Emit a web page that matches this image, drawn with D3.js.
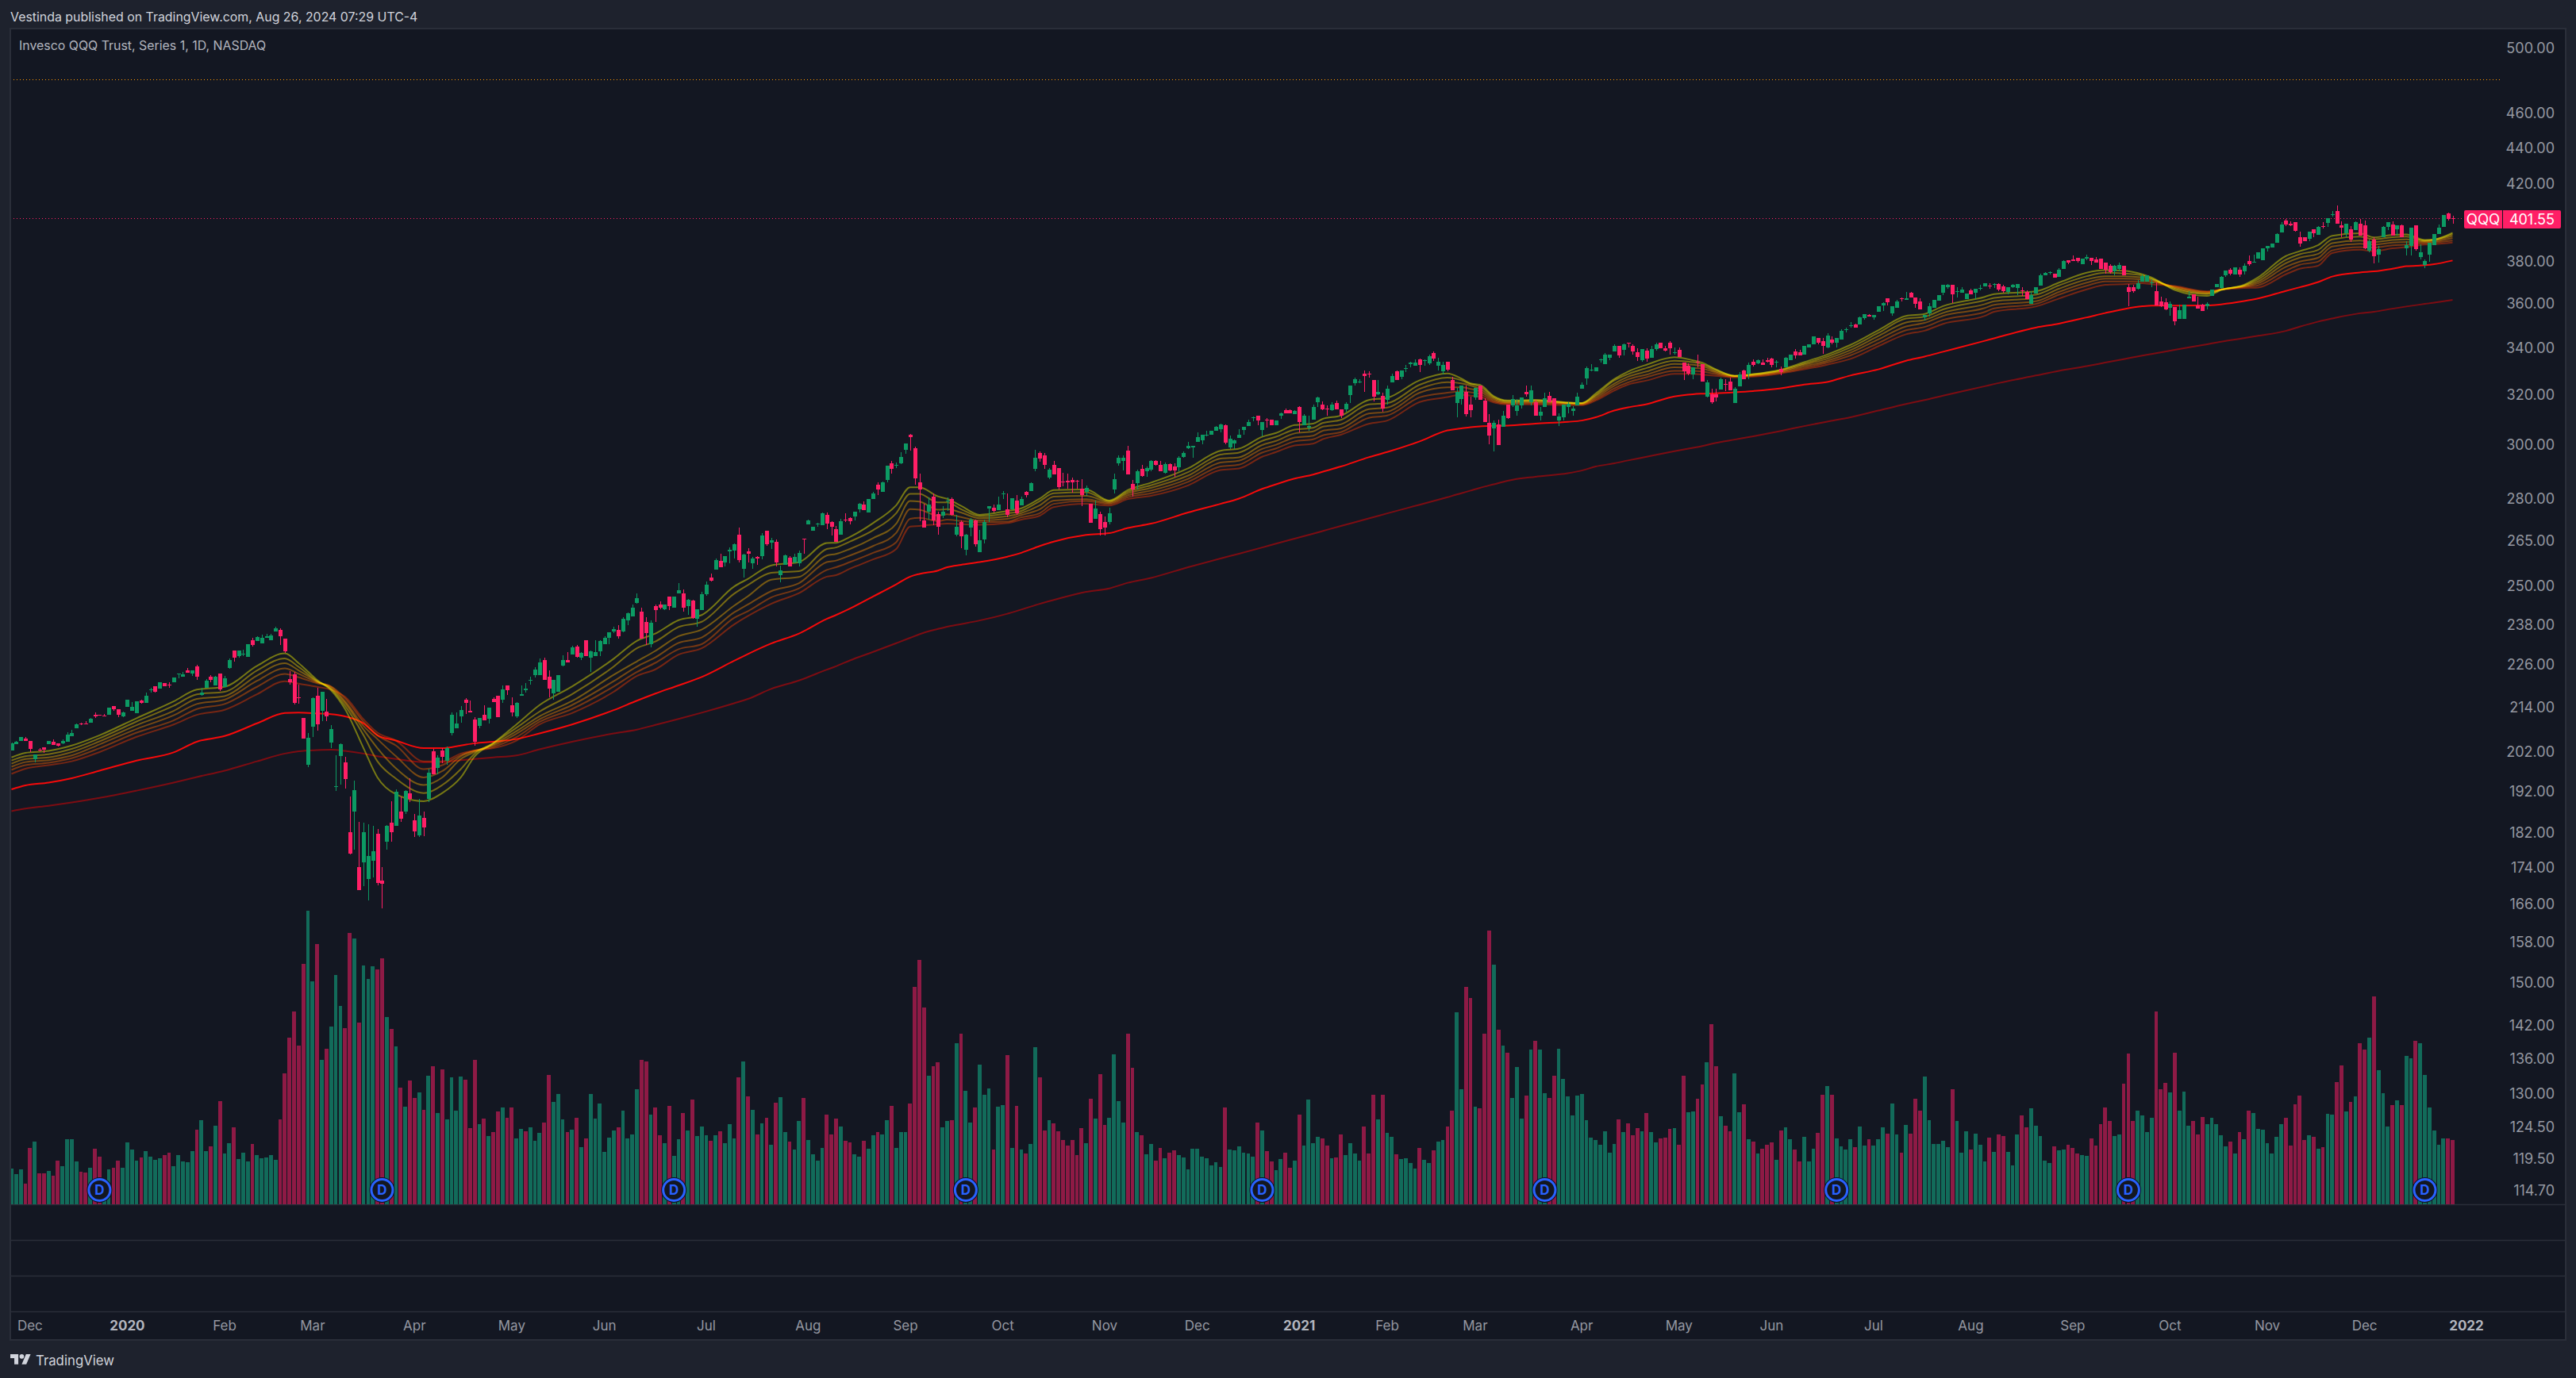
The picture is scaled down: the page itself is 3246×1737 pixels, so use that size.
<!DOCTYPE html>
<html>
<head>
<meta charset="utf-8">
<title>Invesco QQQ Trust, Series 1, 1D, NASDAQ</title>
<script src="https://cdn.jsdelivr.net/npm/d3@7/dist/d3.min.js"></script>
<style>
  html, body { margin: 0; padding: 0; background: #1e222d; }
  svg { display: block; }
  text { font-family: Inter, "Liberation Sans", sans-serif; }
</style>
</head>
<body>
<svg id="chart" width="3246" height="1737"></svg>
<script>
// Daily candles as [open, high, low, close]
const candlesDec2019 = [
[202.4,204.3,202.3,204.1],[204.0,204.9,204.0,204.6],[204.8,205.9,204.8,205.9],[205.4,205.8,204.8,204.8],[204.9,204.9,201.9,202.8],
[200.1,201.2,199.2,201.2],[202.6,203,202.1,202.4],[203.1,203.1,201.7,202.5],[204,204.9,204,204.9],[204.5,205.3,203.8,203.8],
[204.1,204.1,203.3,203.5],[204.2,205.2,204,204.9],[204.5,207.2,204.5,206.4],[206,207.8,206,207],[208.2,209.5,208.2,209.2],
[209.4,209.7,209.1,209.3],[209.5,210.1,209.3,209.4],[209.6,210.9,209.6,210.7],[211.8,212.4,210.9,211.5],[211.9,211.9,211.6,211.6],
[211.7,212,211.3,211.6],[211.9,213.7,211.9,213.7],[214.3,214.3,212.9,213.3],[213.3,213.3,211.1,211.8],[211.3,212.6,211.1,212.4]
];
const candlesFirstHalf2020 = [
[214,215.9,214,215.9],[212.9,215.3,212.9,213.9],[212.3,215.5,212.3,215.5],[215.7,216,214.9,215.2],[215.2,217.9,215.2,217],
[218.7,219.3,217.9,218.9],[219.7,219.7,218,218.2],[219,220.9,219,220.9],[220.6,220.6,219.7,219.7],[220.2,221,219.3,219.9],
[220.9,222.2,220.9,222.2],[223.2,223.3,222,223.3],[222.5,223.8,222.5,223.1],[224.2,225,223.6,223.6],[223.4,224.4,222.7,224.4],
[225.4,225.9,221.6,222.5],[217.4,219.3,217.1,217.9],[219.3,221.7,219.3,221.3],[222.5,222.9,220.9,221.6],[219.9,222.8,219.9,222.5],
[223.4,223.4,218.4,218.8],[219.5,222.6,219.5,222.1],[225,227.8,224.7,227.4],[230,230,226.9,228],[228.4,230.2,228,230.2],
[229.1,230.4,228.5,229.2],[228.3,231.9,228.3,231.9],[233.2,234,231.4,231.8],[233,234.4,233,234.1],[232.3,234.9,232.3,233.9],
[234,235,233.9,234.5],[233.2,235,233.2,234.6],[235.9,237.3,235.9,236.9],[236.3,236.8,231.8,234.4],[233.7,233.7,229.3,229.9],
[221.7,224,220.2,221],[223.1,223.8,214.6,215],[216.6,220.2,214.9,216.5],[210.9,210.9,205.4,205.4],[198.7,207,198.1,205.6],
[208.6,216.6,205.8,216.4],[217.1,219.4,207.5,209.2],[213,218.2,210.2,218.2],[212.6,216.2,210,211.3],[204.3,209,203,207.9],
[193.2,201,192.1,193.3],[200.9,204.1,193.7,203.9],[199.3,200.7,192.7,195],[182.1,190.7,177,177.2],[186.9,194.5,178.1,192.2],
[174.1,184.6,169,169],[175.2,184.4,169.8,182.1],[171.5,183.9,166.8,176.6],[175.5,183.5,171.7,177.6],[181.8,182.9,170.1,170.5],
[171,174.1,165,170.3],[179.8,183.8,178,183.6],[184.4,189.5,179.9,182.1],[183.6,192.4,183.6,191.9],[186.9,190.7,184.6,185.2],
[186.9,192.2,186.4,192],[191.5,195.2,189.2,190.1],[184.9,186.5,180.9,182.2],[181.4,190.1,181,186.1],[185.5,187,181.1,183.2],
[190.1,197.6,189.2,196.5],[202.1,202.7,196.2,196.2],[197.8,201,196.2,200.4],[202.3,203,199,200.7],[199.7,203.4,198.7,203],
[206.9,212.4,206.2,211.8],[208.2,212.4,208.2,209.5],[211.3,214.2,209.7,213.1],[215.9,216.4,212,215.1],[213,215.7,212.4,212.4],
[210.5,211.2,203.5,204.5],[208.8,210.9,208.2,210.9],[211.8,214.4,210.3,210.3],[210.7,213.7,209.5,213.7],[216.2,216.6,215.3,215.3],
[217.1,217.1,211.2,211.2],[216,220,215,218.9],[220,220,217.4,218.7],[214.4,216.6,211.5,212.4],[211.4,215.3,211,215.1],
[217.2,220,217,217.6],[218.6,220.7,217.9,219.2],[221.5,222.5,220.2,221.6],[223,225.2,222.3,224.6],[223,227.7,223,226.7],
[227.2,227.9,221.6,221.6],[222.4,224.4,216.6,219],[217.7,221.6,215.9,221.6],[218.3,223,218.1,223],[225.8,228.6,225.4,227.2],
[227.4,229.7,226.5,226.5],[229,231.5,229,231.1],[231.3,231.8,228.1,228.3],[228.1,229.7,227.4,229.5],[233.2,233.2,228.5,228.5],
[228.1,230.1,223.8,229.9],[228.5,233.2,228.5,229.7],[229.9,233.2,228.5,232.9],[231.9,234.3,231.9,233.8],[234,235.5,231.9,235.5],
[235.8,237.2,235.3,236.5],[236.2,237.7,233.6,234.5],[235.8,240.2,235.5,239.7],[239.2,241.6,237.7,241.4],[240.5,244.1,240.5,243.1],
[244.6,247.6,244.4,246.1],[242,243.3,233.6,233.6],[238.8,240.1,231.7,235.4],[232.1,239.3,231.1,238.6],[243.6,244.3,238.8,242.4],
[244.3,245.3,242.6,243.1],[242.8,244.3,242.4,244.1],[246.6,246.8,242.4,243.8],[243.3,246.6,243.3,246.6],[247.8,251,247.6,248.6],
[247.8,249,242,243.3],[243.6,246,240.9,245.8],[245.5,245.8,239.7,239.9],[239.7,242.6,237.2,242.6],[242.4,248.1,242.4,247.4]
];
const candlesSecondHalf2020 = [
[247.4,251.5,246.9,250.4],[252.8,254.1,251.5,251.7],[255.3,259,255.3,258.5],[258.2,260.7,256.3,256.3],[257.8,260,256.4,260],
[261.6,262.9,257.5,262],[261.8,264.3,259,264],[267.1,269.6,257.7,258.5],[255.6,260.7,252.8,260.4],[261.5,262.6,257.7,260.7],
[257.5,259.5,255.6,259],[259.5,260,256.9,259],[260,267.7,258.7,266.9],[268.5,268.5,263.3,263.8],[264.4,266,262.4,265.2],
[264.6,265.4,256.4,257.8],[253.7,256.8,251.2,255.2],[256.9,260.4,256.9,260.1],[259.3,259.8,256.4,256.4],[257.9,260.6,257.6,259.5],
[257.6,261.7,256.4,260.9],[265.7,265.7,260.6,265.5],[270.7,272.3,270.7,272],[268.5,270,268.5,270],[270.7,271.4,270,270.9],
[270.4,274.9,270.4,274.7],[274.1,274.9,269.1,271],[271.5,271.8,266.9,269.8],[269,270.3,264.6,264.6],[267.1,272.6,267.1,271.8],
[272.5,274.7,271.6,272.2],[272.9,273.2,270.7,271.8],[273.5,275.2,272.1,275.2],[276,278.3,274.9,278],[277.7,278.9,275.7,275.7],
[274.9,279.8,274.9,279.8],[279.8,282.4,279.8,281.8],[285,285.9,281.2,283.3],[282.4,286.2,282.4,285.9],[286.8,292.1,285.9,292.1],
[293,293.9,288.9,290.9],[292.2,293.2,291,292.4],[293,297.2,292.7,295.4],[297.9,300.6,296.4,300.6],[303.9,304.2,297.6,303],
[298.8,299.4,284.8,287.3],[285.9,289,271.8,283.3],[272.1,278,269.6,269.6],[275.2,280.3,272.5,277.7],[280.7,281.8,270.4,272.1],
[274.3,275.2,267.1,270],[273.8,277.2,272.9,275.2],[278.9,280.3,275.5,279.1],[279.8,280.3,273.9,274.1],[267.1,274.2,266.7,270],
[271.5,272,262.6,266.7],[262,267.5,260.1,267.2],[269.6,272.9,266.5,272.3],[272,272.3,263,263.8],[261.1,268.7,261.1,265.3],
[265.5,272.3,264.2,271.5],[276.3,277.2,271.5,277.2],[276.6,277.7,275,275.4],[275.7,280.7,275.7,277.7],[281.4,282.6,279.8,281.8],
[276,281.8,273.2,274.1],[276,280,275.8,280],[279.1,281.1,274.1,274.7],[277.5,280.6,277.5,279.8],[282.4,282.6,280.3,281.2],
[282.7,285.9,282.7,285.6],[290.8,298,289.9,295],[296.9,297.5,293.5,294.7],[295.9,296.9,290.8,292.3],[287.5,291.1,286.9,290.5],
[292.3,293.8,288.7,288.7],[291.1,291.1,283.3,284.2],[286.2,289.4,284.5,285.9],[286.5,289.1,283.5,285.7],[286.8,287.6,281.9,285.7],
[286.5,286.7,283.5,286.3],[283.5,286.9,277.1,281.2],[282.3,284.6,280.9,283.8],[278,278,271.3,271.3],[272.7,279.2,272.7,276.2],
[274.3,275.2,266.8,269],[271.5,273.5,266.8,269.6],[271.5,276.6,270.7,274.7],[283.3,289,281.8,287.1],[293,296,292,295],
[293.8,296,290.2,295],[297.7,299.5,288.7,288.7],[285.3,286.7,280.6,283.3],[285.6,290.5,283.3,289.8],[290.8,292.2,287.9,288.3],
[290,291.7,288,291.1],[290.5,294.1,290,293.9],[293.8,294.1,292.1,292.3],[292.2,293.8,290,290],[289.4,293.1,289,292.7],
[292.7,293,289.8,290.2],[291.8,293,288,290.2],[291.5,295.7,290,295],[295.4,297.5,295,296.9],[298.8,301,298.5,299.6],
[299,299.7,294.9,299.5],[301.1,304.7,301.1,302.9],[301.7,303.8,300.2,303.8],[303.7,305.6,303.3,304],[303.8,305.3,303.8,305.3],
[305.3,307.3,305.3,307],[306.2,308.3,304.7,308],[307.7,308,300.3,300.9],[299,303.5,298.4,302.3],[300.5,301.9,298.5,301.7],
[302.6,306,302.6,303.8],[305.9,307,303.8,307],[307.3,309.8,307.3,308.9],[310.4,311,309.3,310.7],[311.3,311.6,307.7,309.5],
[305.9,308.9,303.3,308.9],[310,310.4,306.8,309.9],[309.8,309.8,307.8,307.8],[307.8,309.5,307.8,309.5],[311.6,312.8,310.2,312.5],
[313.8,314.4,312.5,312.5],[313.8,314.1,312.5,312.5],[312.2,313.8,312.2,313.5]
];
const candlesFirstHalf2021 = [
[315,315.3,304.7,308.9],[307.8,312,307.8,311.6],[306.8,311.6,305.4,307.3],[309.9,316,309.9,315],[316.9,319.2,315,318.8],
[316,317.2,313.8,314.1],[314.4,315.7,311.3,314],[313.8,317,313.5,316],[316.6,317.6,314.1,314.1],[314.1,314.1,310.5,311.5],
[314.1,317,312.9,316.3],[319.9,323.7,316.6,323.7],[324.7,327,323.7,326.3],[325.2,326.3,324.7,325.4],[328.7,330.1,321.2,327.8],
[328.8,329.7,327,328.4],[326,326,317.3,319.2],[320.2,326,319.9,321.1],[319.5,320.8,312.9,314.4],[318,323.7,316,322.4],
[325.1,328.8,325.1,327.8],[329.8,330.1,326,326],[327.4,330.1,326.3,330.1],[330.8,332.5,329.4,331.1],[332.8,333.8,331.4,333.5],
[332.1,334.9,332.1,333.5],[334.9,335.3,329.4,332.5],[334.3,334.9,332.1,334.7],[333.2,336.8,332.5,336.4],[337.5,338.2,334.3,335.3],
[332.1,335.5,330.1,333.9],[329.8,333.9,328.4,332.5],[333.9,333.9,329.8,330.4],[326,327.4,321.9,321.9],[316.6,322.9,310.9,321.2],
[318.3,323.8,316,323.8],[321.2,323.8,311,312.2],[316,319.2,310.8,313.8],[318.9,322.8,317.9,322.8],[323.8,323.8,318,318],
[317.4,318.4,308.9,308.9],[308.6,312,300.2,303.5],[306.4,309.5,297.5,308.6],[308,309.9,299.8,299.8],[306.9,313.5,306.9,311.6],
[316,316,310.2,310.5],[315.6,319.9,314.9,318.2],[313.5,318.2,311.6,315.6],[315.6,318.9,314.2,318.9],[321.1,323.8,319.2,320.2],
[316.9,323.7,315.7,321.7],[316.9,317.9,311.3,311.6],[311.3,314.9,309.5,313.2],[315,320.8,315,318.5],[319.5,321.1,316.9,316.9],
[318.5,318.5,311.3,311.3],[309.5,312.5,307.3,311],[310.8,316,309.5,316],[315,317,312.3,316.3],[313.5,315.3,311.3,314.4],
[315.7,320.8,315.7,319.2],[322.6,325,322.6,324.2],[326.8,331.8,324.2,331.1],[330.3,332.7,329.7,330.6],[329.7,331.5,329.7,331.5],
[334.6,335.3,333.6,334.9],[333,337.5,333,337.1],[335.7,336.8,334.4,336.8],[338.2,341.3,338.2,340.6],[340.9,340.9,335.7,336.5],
[339.2,341.9,336.5,341.6],[342.3,342.3,340.2,342],[340.6,341.6,337.1,338.5],[338,339.8,334.2,335.9],[334.7,339.5,334,339.5],
[338.8,339.8,334,335.1],[335.7,340.9,335.7,339.5],[339.5,342,338.8,341.6],[342,342,339.8,339.8],[339.8,340.6,338.5,338.8],
[342.3,343,337.1,339.8],[337.6,340.2,337.1,337.9],[339.2,340.2,335.9,335.9],[333.6,333.6,326.2,329.9],[332.2,333.3,328.1,328.8],
[328.4,331.6,326.4,331.6],[333.9,336.9,331.6,333.6],[333,333,325.6,325.6],[319.3,326.2,319,325.2],[320.3,322.6,316.2,316.8],
[320,322.6,317.1,319],[322.2,327.1,322.2,326.4],[324.5,326.4,321.6,324.3],[325.4,327,321.9,321.9],[316.5,323,316.5,322.6],
[323.6,329.5,323.6,328.5],[330.1,330.5,326.3,326.6],[328.9,333.6,326.6,332.6],[334,335,331.9,332.6],[333.3,334.8,333,334.4],
[333.6,334.9,332.6,332.6],[334.7,335.7,333.5,334],[335.4,335.7,331.6,332.6],[333.6,334.4,331.6,333.9],[330.7,331.9,328.1,329.6],
[331.6,336,331.6,335.7],[334.7,337.1,334.7,336.8],[338.5,339.5,335.1,336.5],[338,339.1,336.5,336.5],[336.9,340.6,336.9,340.6],
[340.2,341.3,340.2,341.3],[341.3,344.8,341.3,344.8],[344.1,344.4,341.6,342],[342.7,344.1,337.4,340.9],[339.9,346.5,339.7,345.5],
[343.7,344.8,341.6,342.3],[342.3,344.4,340.2,344.4],[343.7,348,343.7,347.6],[347.7,349,346.9,348],[349.8,351.5,349,350],
[350.4,350.8,349,349],[350.4,354,350.4,353.6]
];
const candlesSecondHalf2021 = [
[353.3,355,352.6,355],[354.7,355,354,354],[353.6,354.7,352.6,354.7],[356,358.6,356,358.6],[359,360.5,356.4,360],
[362.4,362.4,359,360.5],[355.3,358.6,354.3,358.6],[357.8,361.6,357.8,360.9],[362.4,362.8,360.9,361.9],[361.6,365.4,361.6,362.4],
[365,365.4,362.8,362.8],[362.8,362.8,358,359.9],[361,362.4,357,357],[353.6,354.7,352.2,354.7],[355.3,360,354,358.6],
[357.9,361.6,357.9,361.6],[361.2,363.9,361.2,363.9],[365,368.5,363.9,368.5],[367.4,368.9,366.7,368.5],[368.5,368.5,360,364.3],
[365.3,367.6,362.8,365.7],[365,367.6,365,366.5],[361.9,364.6,361.9,364.6],[366,366.8,364.3,364.3],[365,366.8,361.9,366.8],
[366.8,368.5,366,367.1],[367.8,369.6,367.8,369.3],[368.4,369.5,366.8,368],[368.7,369.5,367.2,368.9],[369.2,369.5,365.8,366.5],
[368,368.7,365,365.8],[365.3,367.6,364.2,367.6],[367.6,369.2,367.2,368.7],[367.2,369.2,363.9,369.2],[366.2,367.4,363.3,365.8],
[365.2,366.2,361.8,361.8],[359.6,365.8,359.6,363.9],[364.6,367.6,364.6,367.6],[368.4,374,368.4,373.3],[373.3,374.8,373.3,374.4],
[374.4,375.2,373.7,374.8],[374,374,372.1,372.1],[372.6,376.8,372.6,376],[376.4,380.7,376.4,380.3],[380.7,380.7,378.6,379.5],
[381.1,382.7,380.3,380.3],[381.9,381.9,379.2,380],[378.8,381.5,378.8,381.5],[381.4,383.1,380.7,382.3],[381.9,381.9,378.3,380.3],
[381.1,382.3,379.2,379.2],[381.5,381.5,376.4,376.4],[379.2,379.2,374,376],[378,378.8,374,374.9],[375.3,378.4,373.2,378],
[376.4,379.2,375.3,378.4],[378,378,373.2,373.2],[367.6,369.2,358.6,365.3],[367.6,368.7,365,365.8],[366.8,371,366.4,369.5],
[370.2,373.6,370.2,372.8],[370.2,373.2,370.2,373.2],[369.7,371.2,367.6,370],[365.6,370,359.1,359.1],[360.9,363.2,358.2,358.6],
[360.5,362.5,356.8,357.2],[357.9,360.9,354.2,359.7],[358.2,358.2,349.9,351.6],[352.7,359.2,352.7,356.8],[353,359.3,352.7,359.3],
[362.5,365.7,362.2,362.9],[364.2,364.2,360.7,360.7],[359.1,363.1,357.6,357.6],[359.5,359.9,356.6,356.6],[358.8,360.3,357.3,359.9],
[363.4,366.5,363.4,366.5],[367.6,369.2,367.6,369.2],[367.2,373,366.8,372.6],[373.3,375.6,372.6,375.6],[376,376.8,373.3,374],
[373.6,377.2,373.6,377.2],[376,377.1,372.6,373.6],[375.3,379,373.6,378],[380.3,382.7,378,378.7],[379.2,383.4,379.2,379.9],
[381.4,384.3,381.4,384.3],[380.7,386.3,380.7,386.3],[386.3,387.6,384.7,387.6],[386.7,389,386.7,389],[389.4,394,389.4,393.5],
[394.3,399.8,394.3,398.5],[400.7,401.5,397.8,398.6],[399,400.2,397.8,398.2],[399.8,399.8,394.9,395.3],[392.2,395,387.4,389],
[392.2,392.2,389.9,389.9],[391.2,394.8,390,394.8],[396,396,392,394],[393.2,397.6,393.2,397.2],[397.6,399.6,396.5,397.4],
[399.3,401.9,397.3,401.9],[403.2,405.5,402.7,404],[405.5,408.5,398.7,398.7],[398,400.2,392,396.7],[394.2,398.7,392,398.7],
[396,397.6,389.5,390.8],[395.6,400,395.6,399.6],[398.7,401.3,393,393],[398,400.7,386.2,386.6],[385.3,391,384.5,390],
[391,392,379,382.4],[383.2,387.5,379.3,386],[392.2,397.8,392.2,397.4],[397.4,399.6,395.8,399.6],[398.3,399.9,393,393],
[396,398,393,398],[398,398.4,391.9,391.9],[386.6,390,383,387.9],[387.6,396.7,383,396.7],[398,398,385.4,386.2],
[382.2,388.4,381.1,384.3],[378.4,380.8,376.7,380],[383.3,389.2,379.6,389.2],[388,393.7,388,393.7],[393.7,398.4,393.7,396.7],
[397.4,403.5,397.4,403.5],[404.4,404.8,400.5,401.4],[401.9,403,398.7,401.55]
];

// Daily share volume, in millions
const volumes = [
13.5,11.4,13.2,7.8,21.3,23.7,11.7,11.7,12.6,10.8,
16.5,14.4,24.6,24.6,16.2,12.3,12.0,13.8,21,18,
8.4,13.2,13.8,16.5,13.8,23.4,20.7,16.5,17.7,20.1,
18,16.8,17.4,18.6,19.5,14.4,18.6,16.2,15.9,20.1,
28.2,31.8,20.1,21.9,29.7,39,19.2,23.1,29.1,17.1,
19.5,16.2,22.8,18.6,17.4,17.7,18.6,16.8,32.1,49.5,
63,72.9,60,90.9,111,84.3,98.4,54.6,58.8,67.2,
86.7,75,66.6,102.6,100.5,68.7,90.3,85.2,90,88.8,
93,70.8,66.3,59.7,44.1,36.9,46.8,40.2,42.3,35.7,
48.6,52.2,34.5,51,32.1,48,35.4,48.3,47.1,28.8,
54.6,30.3,32.4,25.8,27.3,35.1,36.6,32.7,36.6,24.9,
28.5,27.6,29.1,24,27,30.9,48.9,38.7,41.7,32.1,
27.3,28.2,32.7,21.6,24.9,41.7,32.4,38.1,19.8,25.2,
27.9,29.1,35.4,24.9,26.4,43.5,54.6,54,33.9,36.6,
26.1,23.1,37.2,18.3,24.6,34.5,27.9,39.6,25.8,29.4,
26.1,24,26.1,27.6,23.1,30.3,24.9,48,54,40.8,
35.7,26.4,30.6,32.7,22.5,38.4,40.5,27.3,23.7,20.7,
31.5,40.2,24.3,18.9,16.5,21.3,33.9,26.4,32.4,29.4,
24,23.4,18.9,18,24,21,26.1,27.3,26.4,31.8,
37.2,21.3,27.3,27.3,38.1,82.2,92.4,74.4,48.6,52.2,
53.7,29.1,31.5,31.8,60.9,64.5,42.9,30.9,36.6,52.8,
41.4,43.8,20.7,36.9,37.5,56.4,21.3,37.2,20.7,19.2,
22.8,59.4,48,27.9,31.8,30.6,27.6,24.3,22.2,24.3,
18.6,28.8,23.1,39.9,32.4,49.2,30,32.7,56.7,39,
30.9,64.5,51.6,27.3,26.1,18.9,22.8,16.5,21.3,17.4,
19.5,20.4,18.6,17.7,13.2,21,21,18,17.4,14.7,
15.9,14.1,36.6,20.7,20.4,
21.9,19.5,19.2,18,30.9,27.9,20.1,16.2,12.9,17.1,
19.5,13.8,16.5,33.9,22.2,39.6,23.1,25.5,24.9,22.2,
17.4,17.7,26.4,18.6,23.1,19.2,16.5,29.4,19.2,41.4,
32.1,41.4,27,25.5,18.9,17.1,17.4,15.6,13.5,21.3,
16.8,15.6,20.4,23.7,24.3,29.4,35.4,72.6,43.5,82.2,
78,36.9,36.3,64.5,103.5,90.6,66,60,57.3,40.2,
51.9,32.4,41.1,58.5,61.8,58.5,42,40.2,48.6,58.8,
47.4,40.8,33.6,41.1,41.7,31.8,25.2,24.3,22.5,27.6,
19.5,22.8,32.1,27.3,30.6,26.1,28.8,27.6,34.5,27.3,
23.4,24.9,25.2,28.5,28.8,22.5,48.6,34.8,35.1,39.9,
45.3,53.7,68.1,52.2,33.3,29.7,27.6,49.5,34.8,37.8,
24.6,23.7,19.2,21,22.5,23.4,16.8,27.9,29.1,24.6,
20.7,16.2,25.5,16.2,21,27,41.4,44.7,41.4,24.9,
21.9,20.7,24.6,21.6,29.4,22.2,24.6,22.2,24.6,29.1,
26.7,38.1,26.4,19.5,30,26.7,39.9,35.4,48.3,31.8,
22.8,22.8,24,21.6,43.5,31.5,19.5,27.6,20.7,26.7,
22.5,16.2,25.2,19.8,26.4,25.8,19.8,14.7,26.4,33.6,
29.1,36.3,29.7,25.8,16.5,15.6,21.9,20.4,20.7,22.5,
21.3,19.2,18.6,18.3,24.9,22.2,30.3,36.6,31.5,25.8,
26.4,45.6,57,31.5,35.4,33.6,27.3,32.7,72.9,43.5,
45.9,42.3,57.3,35.4,42.6,29.7,31.5,26.4,33,30.3,
32.7,30.3,26.1,21.9,23.7,19.2,27.3,24.6,35.4,34.5,
28.5,28.2,23.1,19.2,25.5,30.3,32.7,22.2,37.8,41.1,
24.3,26.1,25.5,21,21.6,34.2,33.9,46.2,52.5,35.1,
38.7,40.8,60.9,58.5,63,78.6,50.7,42,29.4,37.5,
39.3,37.5,56.1,55.2,61.8,60.9,48.9,36.6,27.9,22.5,
24.9,24.9,24.3
];

// Volume bar tone per session: G up, R down
const volumeTones = [
"GGGRRGRRGR","RGGGGRRGRR","GGRRGGGGRG","GGGRRGGGGG","RGGRGRGGRG","GGRGGGGGRR","RRRRGGRGRG","GGRRGRGGGR",
"RGRGRGRRGR","GRGRGGGGRR","RGRGRRGRRG","GRGGGRRGGG","RGRGRGGGGG","GRGGGGRRGR","RGRGGRGRGG","GRGRGGGRGR",
"GRGRGRGGRG","GRGGGGRRRG","RRGGRGGRGG","RGGGRRRRGR","RGGRGRGGRG","GGRGGRGRGR","GGRRGRRRRR","RRGRGRRGGG",
"GRRGRGGRRG","RRGGGGGGGG","GGRGG",
"GGGGRGRRGG","RRGRGGGGRR","GRRGGGGRRR","GRGGRGGGGR","GGRGGRRGGR","RGRRRGRGRG","GGRGRGGRRG","GGGGGGGGGG",
"GGRGRRRGRG","GRRRGRRGGR","RGRRGRRGGR","GRGRRRGRGG","RRGGGRRGRG","GGGRGGRGGG","RGGRGRRRGG","GGGGRGGGRG",
"GGRGRRGGGR","RGGGGGRGGR","RRGGRRRRRG","GRRRGGGGRR","RGRGGGRRRG","GGGGRGRGRG","GGGGGGRRRR","RGRGRGGRRG",
"RGRRGRGGGR","GRGGRGGGGG","GRR"
].join("");

// Sessions at which the moving averages were sampled
const averageSessions = [
0,3,8,13,19,27,35,40,46,53,59,62,66,69,72,76,79,83,89,93,97,100,104,109,
114,121,130,135,139,144,149,156,159,164,170,
176,178,181,186,191,194,196,200,202,205,209,215,218,222,225,232,237,241,246,254,
261,265,270,273,277,281,283,287,293,297,304,310,313,315,317,320,323,329,336,339,342,
346,349,353,359,363,365,368,372,376,382,387,392,397,403,409,413,417,426,
428,437,442,448,452,456,460,462,467,474,477,482,485,491,
494,498,501,507,510,514,517,521,523,527
];
const ribbonFast = [
200.5,201.7,202.2,203.6,206.3,210.9,215.5,218.8,219.6,225.6,229.3,226.4,221.5,218.6,213.4,202.9,195.4,191.2,189.5,191.5,195.4,200.8,204.2,209.2,
214.5,219.7,227.7,233,235.2,239.3,240.9,249.9,252.4,256.8,257.9,
264.3,264.4,266.4,271.2,277.5,284,284,280.7,279.8,277.3,274.1,275.5,276.4,279.9,283,283.2,279.2,283,285.7,291,
297.7,298.5,303.1,304.6,307.7,308.3,310.1,311.5,317.8,318.7,326,328.9,326.7,324.7,324.1,319.4,317.6,317.9,316.8,316.6,320.5,
326.5,329.7,332.6,335.8,334.5,333.5,330.6,327.9,328.6,330.5,333.7,337,341.2,347.7,354.2,355.1,358.7,363,
364.3,365.6,369.7,374.5,375.7,375.4,373.7,372.2,366.2,363.4,366.2,368.7,372.2,382.6,
385,388.1,392.7,394,391.9,393.2,393.4,390.6,390.9,394.3
];
const ribbonSecond = [
199.7,200.8,201.3,202.7,205.5,210,214.3,217.5,218.2,224.3,227.8,225.3,221.2,219,214.3,206.3,199.5,195.1,191.5,193.5,197.5,201.5,204.2,208.3,
212.7,217.5,225.4,230.8,232.8,237.2,238.8,247.6,250.4,254.4,254.9,
262.3,262.8,264.8,268.7,274.7,281.6,281.6,278.5,278.5,276.1,273.6,274.6,275.5,279,281.8,282.2,279,282.4,284.7,289.6,
296.2,297,301.5,303.1,305.9,306.6,308.5,309.8,316,316.5,324.1,327.1,326,324.4,323.4,319,317.4,317.6,316.7,316.5,319.9,
325.9,328.6,331.2,334.3,333.7,332.8,330.3,327.9,328.5,330.3,333.1,336.1,340.1,346.5,353,353.8,357.2,361.4,
362.5,364,368.4,372.8,374.5,374.1,373.1,371.6,366.8,364.3,366.3,368.4,371.3,380.8,
383.5,385.7,390.9,392.3,390.9,392,392.3,390.3,390.7,393.6
];
const ribbonThird = [
198.9,200.1,200.5,201.9,204.7,209,212.9,216.2,217,222.8,226.4,224.3,221.1,219.2,215.1,207.8,202.9,197.7,193.5,195.4,200.1,201.9,203.9,207.4,
211.4,215.6,223,226.9,230,234.4,236.4,243.8,246.8,252.1,253,
260.1,260.6,262.3,266,271,279,278.8,275.9,276.1,274.9,272.9,273.6,274.7,277.5,280.6,280.9,278.7,281.8,283.8,288.3,
294.7,295.2,299.9,301.5,304.4,305.2,307,308,314.1,314.7,322.4,325.2,324.7,323.8,322.4,318.5,317,317.3,316.6,316.4,319.4,
324.6,327.5,329.7,332.9,332.6,332,329.7,327.8,328.3,330,332.6,335.2,338.9,345.1,351.2,352.4,355.6,359.6,
360.9,362.4,366.8,371.2,372.8,372.8,372.2,371.2,367.2,364.6,366.4,368.2,370.3,379.1,
381.8,383.7,389,390.3,389.6,390.6,390.9,390,390.4,392.7
];
const ribbonFourth = [
198.1,199.3,199.8,201,203.9,208,211.7,214.8,216,221.3,224.9,223.3,220.9,219.6,215.6,208.8,205.3,200.8,195.4,197,200.8,202.2,203.6,206.7,
210.6,214.5,221.2,225.4,228.1,232.4,234,241.7,244.2,248.4,251,
257.9,258.4,260.1,263.3,267.8,276.1,275.9,273.8,274.3,273.3,272.1,272.7,274,276.1,279.2,279.7,278.3,281.1,282.8,287.1,
293.2,293.9,298.4,300,302.8,303.5,305.4,306.4,312.3,313,320.8,323,323,322.4,321.4,317.9,316.7,316.9,316.4,316.2,318.7,
323.7,326.4,328.4,331.5,331.2,330.9,329.2,327.7,328.1,329.6,331.9,334.3,337.8,343.6,349.4,351,354.2,357.8,
359.3,360.9,365.3,369.7,371.6,371.6,371.2,370.6,367.6,365,366.5,367.9,369.4,377.3,
379.9,381.8,387.3,388.7,388.3,389.3,389.6,389.5,389.9,391.6
];
const ribbonFifth = [
197.3,198.5,199.1,200.3,202.9,207,210.3,213.4,214.8,219.6,223.3,222.3,220.6,219.7,216.4,209.9,206.3,203.6,197.5,198.5,201.1,202.3,203.2,205.8,
209.9,213.4,219.7,223.8,226.5,230.5,232,240,242.1,246.4,249.3,
255.3,256.2,257.9,261,264.6,272.7,273,271.9,272.4,271.9,271.5,271.7,273.2,274.7,278,279,277.9,280.4,281.8,286,
291.7,292.4,297,298.6,301.3,302.1,303.6,304.9,310.6,311.5,318.9,320.8,321.4,321,320.3,317.3,316.4,316.5,316.2,316,318.1,
322.6,325.1,327.3,330,330,329.7,328.6,327.5,327.9,329.2,331.2,333.5,336.6,342,347.7,349.2,352.4,356,
357.6,359.7,364,368.2,370.3,370.3,370.3,370,367.8,365.3,366.5,367.7,368.4,375.4,
378.3,379.9,385.4,387,386.8,387.9,388.3,389,389.3,390.3
];
const ribbonSlow = [
196.3,197.6,198.5,199.5,201.9,205.9,209.2,211.8,213.2,217.5,221.2,220.5,219.6,218.8,216.8,210.6,207,204.9,199.5,199.5,201.5,202.3,202.9,204.9,
209.2,212.3,218.2,222.7,224.6,228.9,230.8,238,240.6,244.4,247.8,
253.1,253.6,255.7,258.8,262.3,270,270.2,270.8,271,270.8,270.6,271.2,272.4,273.8,276.8,278,277.4,279.7,280.9,284.7,
290.4,291,295.4,297.2,299.7,300.4,302.1,303.9,308.2,309.5,317,319,320,319.6,319.2,316.8,316,316,315.7,315.7,317.6,
321.7,324.2,325.9,328.7,328.7,328.4,327.9,327.2,327.5,328.9,330.6,332.6,335.1,340.6,345.9,347.5,350.6,354.2,
356.1,358.5,362.2,366.5,368.7,369,369.4,369,368.1,365.6,366.4,367.2,367.4,373.7,
376.4,377.9,384.1,385.7,385,386.4,387,388.3,388.5,389.3
];
const averageMedium = [
192.4,193.4,194.1,195.2,197.1,199.7,201.8,204.6,206.1,209.5,212.3,212.4,212.2,212,211.4,209.5,206.3,204.9,202.9,202.9,203.6,204.2,204.6,205.3,
206.8,209.2,213.1,215.7,217.7,220,222.4,227.1,229.1,232.2,235.2,
239.7,240.9,242.9,246.7,250.6,253.1,254,255.1,256.2,257,257.9,259.7,261,263.3,264.8,267.1,267.7,269.5,271,274.9,
278,279.9,283.4,285.1,287.2,288.7,289.7,291.7,295.2,297.2,301.3,305.6,306.4,306.9,307.2,307.4,307.5,308.3,309,309.5,310.8,
313.5,314.8,316.1,319.3,320.2,320.4,320.6,321,321.5,322.6,324.2,325.3,328,330.6,334.3,336.1,338.2,343,
344.1,348.9,350.7,353.5,355.5,357.3,358.6,358.9,358.9,359,359.5,361,362.2,365.8,
367.5,370,372.6,374.6,375.1,376.4,377.6,378.1,378.6,380.4
];
const averageLong = [
187.1,187.7,188.4,189.2,190.3,192.1,194.1,195.5,197.1,199.5,201.5,202.1,202.4,202.5,202.2,201.5,200.8,200.1,199.3,199.3,199.8,200.1,200.5,201,
202.6,204.6,206.8,207.8,209.1,210.7,212.4,215,216.2,219,221.4,
224.5,225.5,227.2,229.7,232.3,233.9,235,236.6,237.3,238.1,239.2,241.3,242.6,244.4,245.6,248.2,249.3,251.1,252.7,256.2,
259.1,260.7,262.8,264.1,265.8,267.5,268.4,270.2,272.8,274.6,277.7,280.4,281.8,282.8,283.8,285.1,286.4,287.9,289.2,290.2,291.7,
292.9,294,295.4,297.5,298.8,299.5,300.7,302,303.3,305.4,307.3,309.1,310.8,313.5,316.2,317.8,319.6,323.5,
324.4,328,330,332,333.5,335,336.5,337.2,339,341.5,342.6,344.2,345.2,347.4,
349.3,351.6,353,355.4,356.1,357.5,358.5,359.7,360.3,361.6
];

// Price axis and calendar labels
const priceTicks = [500,460,440,420,380,360,340,320,300,280,265,250,238,226,214,202,192,182,174,166,158,150,142,136,130,124.5,119.5,114.7];
const timeLabels = ["Dec","2020","Feb","Mar","Apr","May","Jun","Jul","Aug","Sep","Oct","Nov","Dec","2021","Feb","Mar","Apr","May","Jun","Jul","Aug","Sep","Oct","Nov","Dec","2022"];
const timeLabelSessions = [4,25,46,65,87,108,128,150,172,193,214,236,256,278,297,316,339,360,380,402,423,445,466,487,508,530];
const dividendSessions = [19,80,143,206,270,331,394,457,521];
const alertLevel = 480;
const lastPrice = 401.55;

const candles = [...candlesDec2019, ...candlesFirstHalf2020, ...candlesSecondHalf2020, ...candlesFirstHalf2021, ...candlesSecondHalf2021];
const ribbons = [
  { values: ribbonSlow, color: "rgba(255,60,0,0.42)" },
  { values: ribbonFifth, color: "rgba(255,100,0,0.42)" },
  { values: ribbonFourth, color: "rgba(255,140,0,0.42)" },
  { values: ribbonThird, color: "rgba(255,180,0,0.42)" },
  { values: ribbonSecond, color: "rgba(255,220,0,0.42)" },
  { values: ribbonFast, color: "rgba(255,255,0,0.42)" }
];

const colors = {
  frame: "#1e222d", pane: "#131722", rule: "#2a2e39", axis: "#9598a1", title: "#b2b5be",
  up: "#0c9a63", down: "#ff1f66", volUp: "#126b5a", volDown: "#8e1a45",
  marker: "#2962ff", alert: "#ff9800"
};

const panel = { left: 13, right: 3233, top: 36, bottom: 1689 };
const volumeBase = 1518;
const paneRules = [1518, 1563, 1608, 1653];

const x = d3.scaleLinear().domain([0, candles.length - 1]).range([14.5, 3090.5]);
const y = d3.scaleLog().domain([500, 114.7]).range([61, 1501]);
const vol = d3.scaleLinear().domain([0, 120]).range([volumeBase, volumeBase - 400]);

const svg = d3.select("#chart");

svg.append("rect").attr("width", 3246).attr("height", 1737).attr("fill", colors.frame);
svg.append("rect")
  .attr("x", panel.left).attr("y", panel.top)
  .attr("width", panel.right - panel.left).attr("height", panel.bottom - panel.top)
  .attr("fill", colors.pane).attr("stroke", colors.rule).attr("stroke-width", 2);

svg.append("clipPath").attr("id", "plot-clip").append("rect")
  .attr("x", panel.left + 1).attr("y", panel.top + 1)
  .attr("width", panel.right - panel.left - 2).attr("height", panel.bottom - panel.top - 2);

svg.append("g").selectAll("line").data(paneRules).join("line")
  .attr("x1", panel.left).attr("x2", panel.right)
  .attr("y1", d => d + 0.5).attr("y2", d => d + 0.5)
  .attr("stroke", colors.rule).attr("stroke-width", 1.5);

const plot = svg.append("g").attr("clip-path", "url(#plot-clip)");

// Volume histogram along the bottom of the price pane
plot.append("g").attr("shape-rendering", "crispEdges")
  .selectAll("rect").data(volumes).join("rect")
  .attr("x", (d, i) => x(i) - 2.4)
  .attr("width", 4.8)
  .attr("y", d => vol(d))
  .attr("height", d => volumeBase - vol(d))
  .attr("fill", (d, i) => volumeTones[i] === "G" ? colors.volUp : colors.volDown);

// Reference levels
const levels = plot.append("g").attr("shape-rendering", "crispEdges").attr("stroke-width", 1).attr("stroke-dasharray", "1 3");
levels.append("line")
  .attr("x1", panel.left).attr("x2", 3153)
  .attr("y1", y(alertLevel)).attr("y2", y(alertLevel))
  .attr("stroke", colors.alert);
levels.append("line")
  .attr("x1", panel.left).attr("x2", 3105)
  .attr("y1", y(lastPrice)).attr("y2", y(lastPrice))
  .attr("stroke", colors.down);

// Moving averages
const averageLine = values => d3.line()
  .x((d, i) => x(averageSessions[i]))
  .y(d => y(d))
  .curve(d3.curveMonotoneX)(values);

plot.append("path").attr("d", averageLine(averageLong)).attr("fill", "none")
  .attr("stroke", "rgba(255,0,0,0.45)").attr("stroke-width", 2);
plot.append("path").attr("d", averageLine(averageMedium)).attr("fill", "none")
  .attr("stroke", "#f60a0a").attr("stroke-width", 2);
plot.append("g").selectAll("path").data(ribbons).join("path")
  .attr("d", d => averageLine(d.values)).attr("fill", "none")
  .attr("stroke", d => d.color).attr("stroke-width", 2);

// Candles: wick first, body on top
const candleTone = d => d[3] >= d[0] ? colors.up : colors.down;
const candleGroup = plot.append("g").attr("shape-rendering", "crispEdges");
candleGroup.selectAll("rect.wick").data(candles).join("rect")
  .attr("class", "wick")
  .attr("x", (d, i) => Math.round(x(i)) - 0.5)
  .attr("width", 1)
  .attr("y", d => y(d[1]))
  .attr("height", d => Math.max(1, y(d[2]) - y(d[1])))
  .attr("fill", candleTone);
candleGroup.selectAll("rect.body").data(candles).join("rect")
  .attr("class", "body")
  .attr("x", (d, i) => Math.round(x(i)) - 2.5)
  .attr("width", 5)
  .attr("y", d => y(Math.max(d[0], d[3])))
  .attr("height", d => Math.max(1, Math.abs(y(d[0]) - y(d[3]))))
  .attr("fill", candleTone);

// Dividend markers
const markerY = 1500;
const markers = plot.append("g").selectAll("g").data(dividendSessions).join("g")
  .attr("transform", d => `translate(${x(d)},${markerY})`);
markers.append("circle").attr("r", 16).attr("fill", "#0f1320");
markers.append("circle").attr("r", 13.5).attr("fill", colors.pane)
  .attr("stroke", colors.marker).attr("stroke-width", 3);
markers.append("text").text("D")
  .attr("text-anchor", "middle").attr("dy", "0.36em")
  .attr("font-size", 17).attr("font-weight", 700).attr("fill", colors.marker);

// Price axis
svg.append("g").selectAll("text").data(priceTicks).join("text")
  .attr("x", 3219).attr("y", d => y(d)).attr("dy", "0.36em")
  .attr("text-anchor", "end").attr("font-size", 18).attr("fill", colors.axis)
  .text(d => d3.format(".2f")(d));

// Calendar axis
svg.append("g").selectAll("text").data(timeLabels).join("text")
  .attr("x", (d, i) => x(timeLabelSessions[i])).attr("y", 1671)
  .attr("dy", "0.36em").attr("text-anchor", "middle").attr("font-size", 17)
  .attr("font-weight", d => /^\d/.test(d) ? 700 : 400)
  .attr("fill", d => /^\d/.test(d) ? "#b2b5be" : colors.axis)
  .text(d => d);

// Last price tag
const tag = svg.append("g");
tag.append("rect").attr("x", 3105).attr("y", 265).attr("width", 122).attr("height", 23).attr("rx", 2).attr("fill", colors.down);
tag.append("rect").attr("x", 3153).attr("y", 265).attr("width", 1).attr("height", 23).attr("fill", colors.pane);
tag.append("text").attr("x", 3129).attr("y", 276.5).attr("dy", "0.36em").attr("text-anchor", "middle")
  .attr("font-size", 18.5).attr("fill", "#ffffff").text("QQQ");
tag.append("text").attr("x", 3219).attr("y", 276.5).attr("dy", "0.36em").attr("text-anchor", "end")
  .attr("font-size", 18).attr("fill", "#ffffff").text(d3.format(".2f")(lastPrice));

// Titles
svg.append("text").attr("x", 13).attr("y", 21).attr("dy", "0.36em")
  .attr("font-size", 15.9).attr("fill", "#d1d4dc")
  .text("Vestinda published on TradingView.com, Aug 26, 2024 07:29 UTC-4");
svg.append("text").attr("x", 24).attr("y", 57).attr("dy", "0.36em")
  .attr("font-size", 15.9).attr("fill", colors.title)
  .text("Invesco QQQ Trust, Series 1, 1D, NASDAQ");

// Footer brand
const logo = svg.append("g").attr("transform", "translate(13,1704) scale(0.72)").attr("fill", "#d1d4dc");
logo.append("path").attr("d", "M14 22H7V11H0V4h14v18zM28 22h-8l7.5-18h8L28 22z");
logo.append("circle").attr("cx", 20).attr("cy", 8).attr("r", 4);
svg.append("text").attr("x", 45).attr("y", 1715).attr("dy", "0.36em")
  .attr("font-size", 16.8).attr("fill", "#d1d4dc").text("TradingView");
</script>
</body>
</html>
